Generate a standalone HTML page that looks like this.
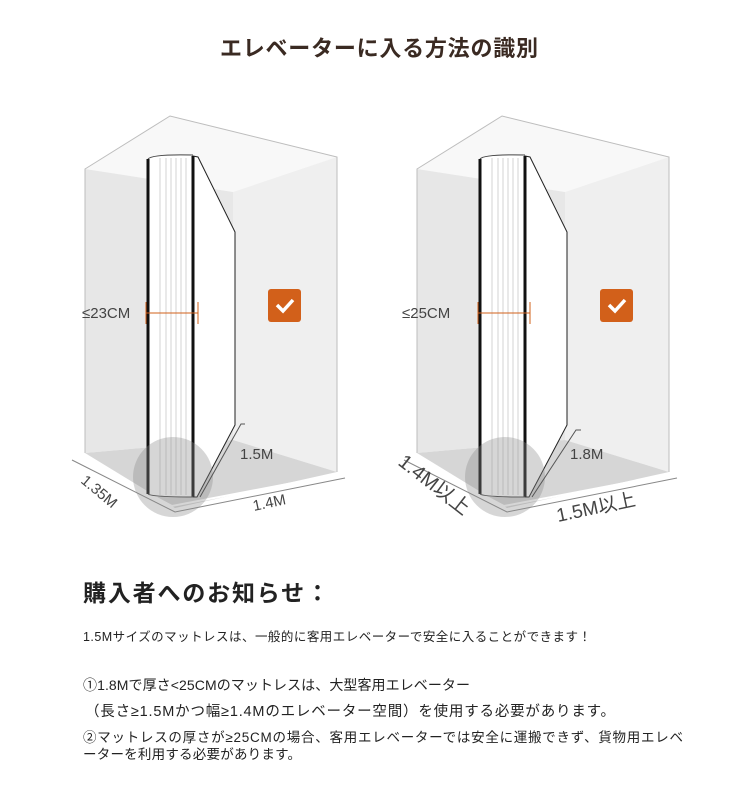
<!DOCTYPE html>
<html><head><meta charset="utf-8"><style>
body{margin:0;background:#fff;width:750px;height:793px;overflow:hidden}
svg text{font-family:"Liberation Sans","Noto Sans CJK JP",sans-serif}
</style></head><body>
<svg width="750" height="793" viewBox="0 0 750 793" xmlns="http://www.w3.org/2000/svg">
<text x="379" y="56" text-anchor="middle" font-size="22" font-weight="bold" fill="#3a2a22" textLength="318">エレベーターに入る方法の識別</text>
<defs>
<g id="box">
  <polygon points="85,169 170,116 337,157 233,192" fill="#f8f8f8"/>
  <polygon points="85,169 233,192 233,440 85,453" fill="#e7e7e7"/>
  <polygon points="233,192 337,157 337,472 233,440" fill="#efefef"/>
  <polygon points="85,453 233,440 337,472 175,508" fill="#d6d6d6"/>
  <polyline points="85,453 85,169 170,116 337,157 337,472" fill="none" stroke="#bdbdbd" stroke-width="1"/>
  <polyline points="72,460 175,512 345,478" fill="none" stroke="#888" stroke-width="1"/>
  <polyline points="77,456 172,506 340,474" fill="none" stroke="#fff" stroke-width="2"/>
  <polygon points="148,159 156,155 193,155 193,497 156,497 148,493" fill="#fff"/>
  <g stroke="#c8c8c8" stroke-width="0.8">
    <line x1="160" y1="158" x2="160" y2="495"/><line x1="166" y1="158" x2="166" y2="495"/>
    <line x1="171" y1="158" x2="171" y2="495"/><line x1="176" y1="158" x2="176" y2="495"/>
    <line x1="181" y1="158" x2="181" y2="495"/><line x1="186" y1="158" x2="186" y2="495"/>
  </g>
  <polygon points="193,156 198,157 235,232 235,425 197,497 193,497" fill="#fff" stroke="#222" stroke-width="1"/>
  <line x1="148" y1="159" x2="148" y2="494" stroke="#111" stroke-width="3"/>
  <line x1="193" y1="156" x2="193" y2="497" stroke="#111" stroke-width="3"/>
  <path d="M148,159 Q152,154 193,155" fill="none" stroke="#444" stroke-width="1"/>
  <path d="M148,494 Q152,497 193,497" fill="none" stroke="#444" stroke-width="1"/>
  <circle cx="173" cy="477" r="40" fill="#8a8a8a" opacity="0.35"/>
  <rect x="268" y="289" width="33" height="33" rx="3" fill="#d2601a"/>
  <polyline points="277,305 283,311 293,300" fill="none" stroke="#fff" stroke-width="3.5"/>
</g>
</defs>
<use href="#box"/>
<use href="#box" transform="translate(332,0)"/>
<line x1="146" y1="313" x2="198" y2="313" stroke="#d2601a" stroke-width="1"/>
<line x1="146" y1="302" x2="146" y2="324" stroke="#d2601a"/>
<line x1="198" y1="302" x2="198" y2="324" stroke="#d2601a"/>
<text x="82" y="318" font-size="15" fill="#444">≤23CM</text>
<polyline points="245,424 241,424 200,497" fill="none" stroke="#555" stroke-width="1"/>
<text x="240" y="459" font-size="15" fill="#444">1.5M</text>
<text x="254" y="511" font-size="15" fill="#444" transform="rotate(-12 254 511)">1.4M</text>
<text x="80" y="482" font-size="15" fill="#444" transform="rotate(40 80 482)">1.35M</text>
<line x1="478" y1="313" x2="530" y2="313" stroke="#d2601a" stroke-width="1"/>
<line x1="478" y1="302" x2="478" y2="324" stroke="#d2601a"/>
<line x1="530" y1="302" x2="530" y2="324" stroke="#d2601a"/>
<text x="402" y="318" font-size="15" fill="#444">≤25CM</text>
<polyline points="581,430 576,430 532,497" fill="none" stroke="#555" stroke-width="1"/>
<text x="570" y="459" font-size="15" fill="#444">1.8M</text>
<text x="558" y="522" font-size="19" fill="#444" transform="rotate(-12 558 522)">1.5M以上</text>
<text x="397" y="464" font-size="20" fill="#444" transform="rotate(38 397 464)">1.4M以上</text>
<text x="83" y="601" font-size="23" font-weight="bold" fill="#222" textLength="246">購入者へのお知らせ：</text>
<text x="83" y="641" font-size="12.5" fill="#222" textLength="508">1.5Mサイズのマットレスは、一般的に客用エレベーターで安全に入ることができます！</text>
<text x="83" y="690" font-size="14" fill="#222" textLength="387">①1.8Mで厚さ&lt;25CMのマットレスは、大型客用エレベーター</text>
<text x="85" y="716" font-size="14.5" fill="#222" textLength="530">（長さ≥1.5Mかつ幅≥1.4Mのエレベーター空間）を使用する必要があります。</text>
<text x="83" y="742" font-size="13.5" fill="#222" textLength="600">②マットレスの厚さが≥25CMの場合、客用エレベーターでは安全に運搬できず、貨物用エレベ</text>
<text x="83" y="759" font-size="13.5" fill="#222" textLength="218">ーターを利用する必要があります。</text>
</svg>
</body></html>
